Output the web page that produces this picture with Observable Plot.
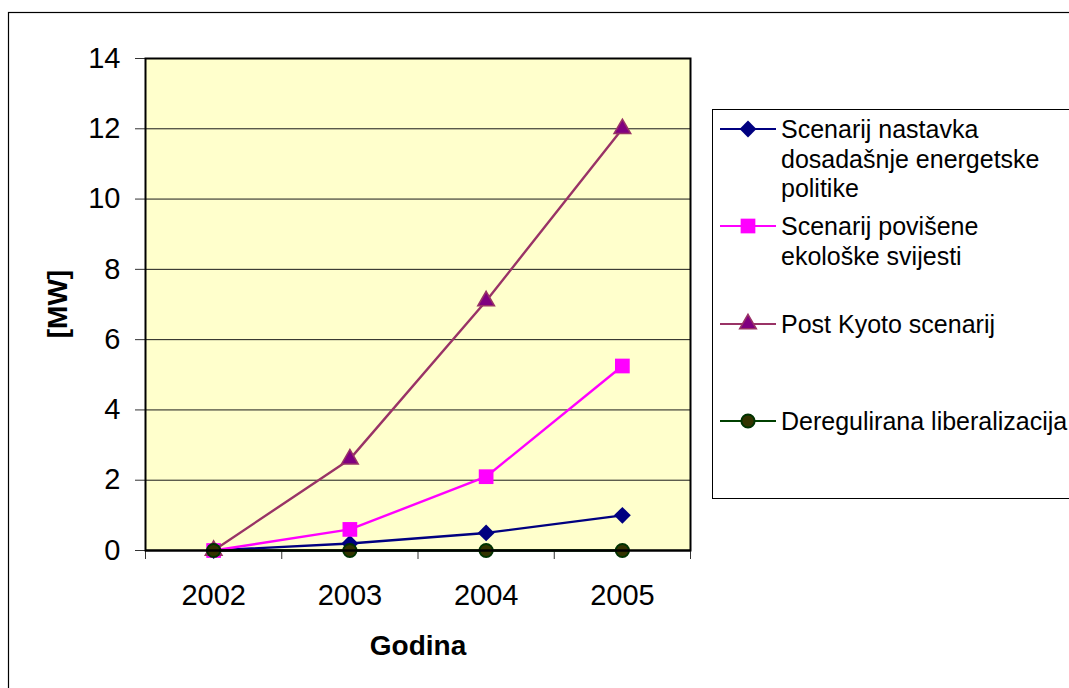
<!DOCTYPE html>
<html>
<head>
<meta charset="utf-8">
<script src="https://cdn.jsdelivr.net/npm/d3@7"></script>
<script src="https://cdn.jsdelivr.net/npm/@observablehq/plot@0.6"></script>
<style>
  html, body { margin: 0; padding: 0; background: #fff; }
  #chart { width: 1069px; height: 688px; overflow: hidden; }
</style>
</head>
<body>
<div id="chart"></div>
<script>
// ---- Data ----
const years = [2002, 2003, 2004, 2005];
const seriesNames = [
  "Scenarij nastavka dosadašnje energetske politike",
  "Scenarij povišene ekološke svijesti",
  "Post Kyoto scenarij",
  "Deregulirana liberalizacija"
];
const nastavka = [0, 0.2, 0.5, 1.0];
const povisene = [0, 0.6, 2.1, 5.25];
const postKyoto = [0, 2.6, 7.1, 12];
const deregulirana = [0, 0, 0, 0];
const yTicks = [0, 2, 4, 6, 8, 10, 12, 14];
const xBoundaries = [2001.5, 2002.5, 2003.5, 2004.5, 2005.5];
const legendLines = [
  ["Scenarij nastavka", "dosadašnje energetske", "politike"],
  ["Scenarij povišene", "ekološke svijesti"],
  ["Post Kyoto scenarij"],
  ["Deregulirana liberalizacija"]
];

// ---- Styles ----
const styles = [
  {line: "#000080", fill: "#000080", stroke: "#000080", symbol: "diamond2", r: 7.6, sw: 0},
  {line: "#FF00FF", fill: "#FF00FF", stroke: "#FF00FF", symbol: "square", r: 8.3, sw: 0},
  {line: "#993366", fill: "#800080", stroke: "#993366", symbol: "triangle", r: 6.2, sw: 1.5},
  {line: "#004000", fill: "#333300", stroke: "#003300", symbol: "circle", r: 6.6, sw: 2}
];

const allValues = [nastavka, povisene, postKyoto, deregulirana];
const rows = [];
allValues.forEach((vals, i) => vals.forEach((v, j) => rows.push({series: seriesNames[i], idx: i, year: years[j], value: v})));

const seriesMarks = [];
seriesNames.forEach((name, i) => {
  const data = rows.filter(d => d.idx === i);
  const s = styles[i];
  seriesMarks.push(Plot.line(data, {x: "year", y: "value", stroke: s.line, strokeWidth: 2.4}));
  seriesMarks.push(Plot.dot(data, {x: "year", y: "value", symbol: () => s.symbol, r: s.r, fill: s.fill, stroke: s.stroke, strokeWidth: s.sw}));
});

const chart = Plot.plot({
  width: 1069,
  height: 688,
  marginLeft: 145,
  marginRight: 379,
  marginTop: 58,
  marginBottom: 138,
  style: {fontFamily: "'Liberation Sans', Arial, sans-serif", fontSize: "29px", background: "#fff", color: "#000", overflow: "visible"},
  x: {domain: [2001.5, 2005.5]},
  y: {domain: [0, 14]},
  symbol: {type: "identity"},
  marks: [
    Plot.frame({fill: "#FFFFCC", stroke: null}),
    Plot.gridY(yTicks, {stroke: "#1a1a1a", strokeOpacity: 1, strokeWidth: 1}),
    Plot.axisY(yTicks, {tickSize: 10, tickPadding: 15, label: null, tickFormat: d => String(d), stroke: "#333", fontSize: 29}),
    Plot.axisX(xBoundaries, {tickSize: 9, tickFormat: () => "", label: null, stroke: "#333"}),
    Plot.axisX(years, {tickSize: 0, tickPadding: 34, tickFormat: d => String(d), label: null, fontSize: 29}),
    ...seriesMarks,
    Plot.ruleY([0], {stroke: "#000", strokeWidth: 2}),
    Plot.frame({stroke: "#000", strokeWidth: 2})
  ]
});

document.getElementById("chart").appendChild(chart);

const svg = d3.select(chart);
// outer chart border
svg.append("rect")
  .attr("x", 8.5).attr("y", 12.5).attr("width", 1100).attr("height", 700)
  .attr("fill", "none").attr("stroke", "#000").attr("stroke-width", 1.2);

// axis titles
svg.append("text")
  .attr("x", 418).attr("y", 655)
  .attr("text-anchor", "middle")
  .attr("font-weight", "bold").attr("font-size", 28)
  .text("Godina");
svg.append("text")
  .attr("transform", "translate(67,304) rotate(-90)")
  .attr("text-anchor", "middle")
  .attr("font-weight", "bold").attr("font-size", 28)
  .text("[MW]");

// legend
const lg = svg.append("g").attr("font-size", 25).attr("text-anchor", "start");
lg.append("rect")
  .attr("x", 712.5).attr("y", 109.5).attr("width", 400).attr("height", 389)
  .attr("fill", "#fff").attr("stroke", "#000").attr("stroke-width", 1);
const legendY = [129, 226, 324, 421];
const symMap = {diamond2: d3.symbolDiamond2, square: d3.symbolSquare, triangle: d3.symbolTriangle, circle: d3.symbolCircle};
legendLines.forEach((lines, i) => {
  const y = legendY[i];
  const s = styles[i];
  lg.append("line").attr("x1", 720).attr("x2", 776).attr("y1", y).attr("y2", y)
    .attr("stroke", s.line).attr("stroke-width", 2.2);
  lg.append("path")
    .attr("transform", `translate(748,${y})`)
    .attr("d", d3.symbol(symMap[s.symbol], Math.PI * s.r * s.r)())
    .attr("fill", s.fill).attr("stroke", s.sw ? s.stroke : "none").attr("stroke-width", s.sw);
  lines.forEach((t, k) => {
    lg.append("text").attr("x", 781).attr("y", y + 9 + k * 29.5).attr("text-anchor", "start").text(t);
  });
});
</script>
</body>
</html>
